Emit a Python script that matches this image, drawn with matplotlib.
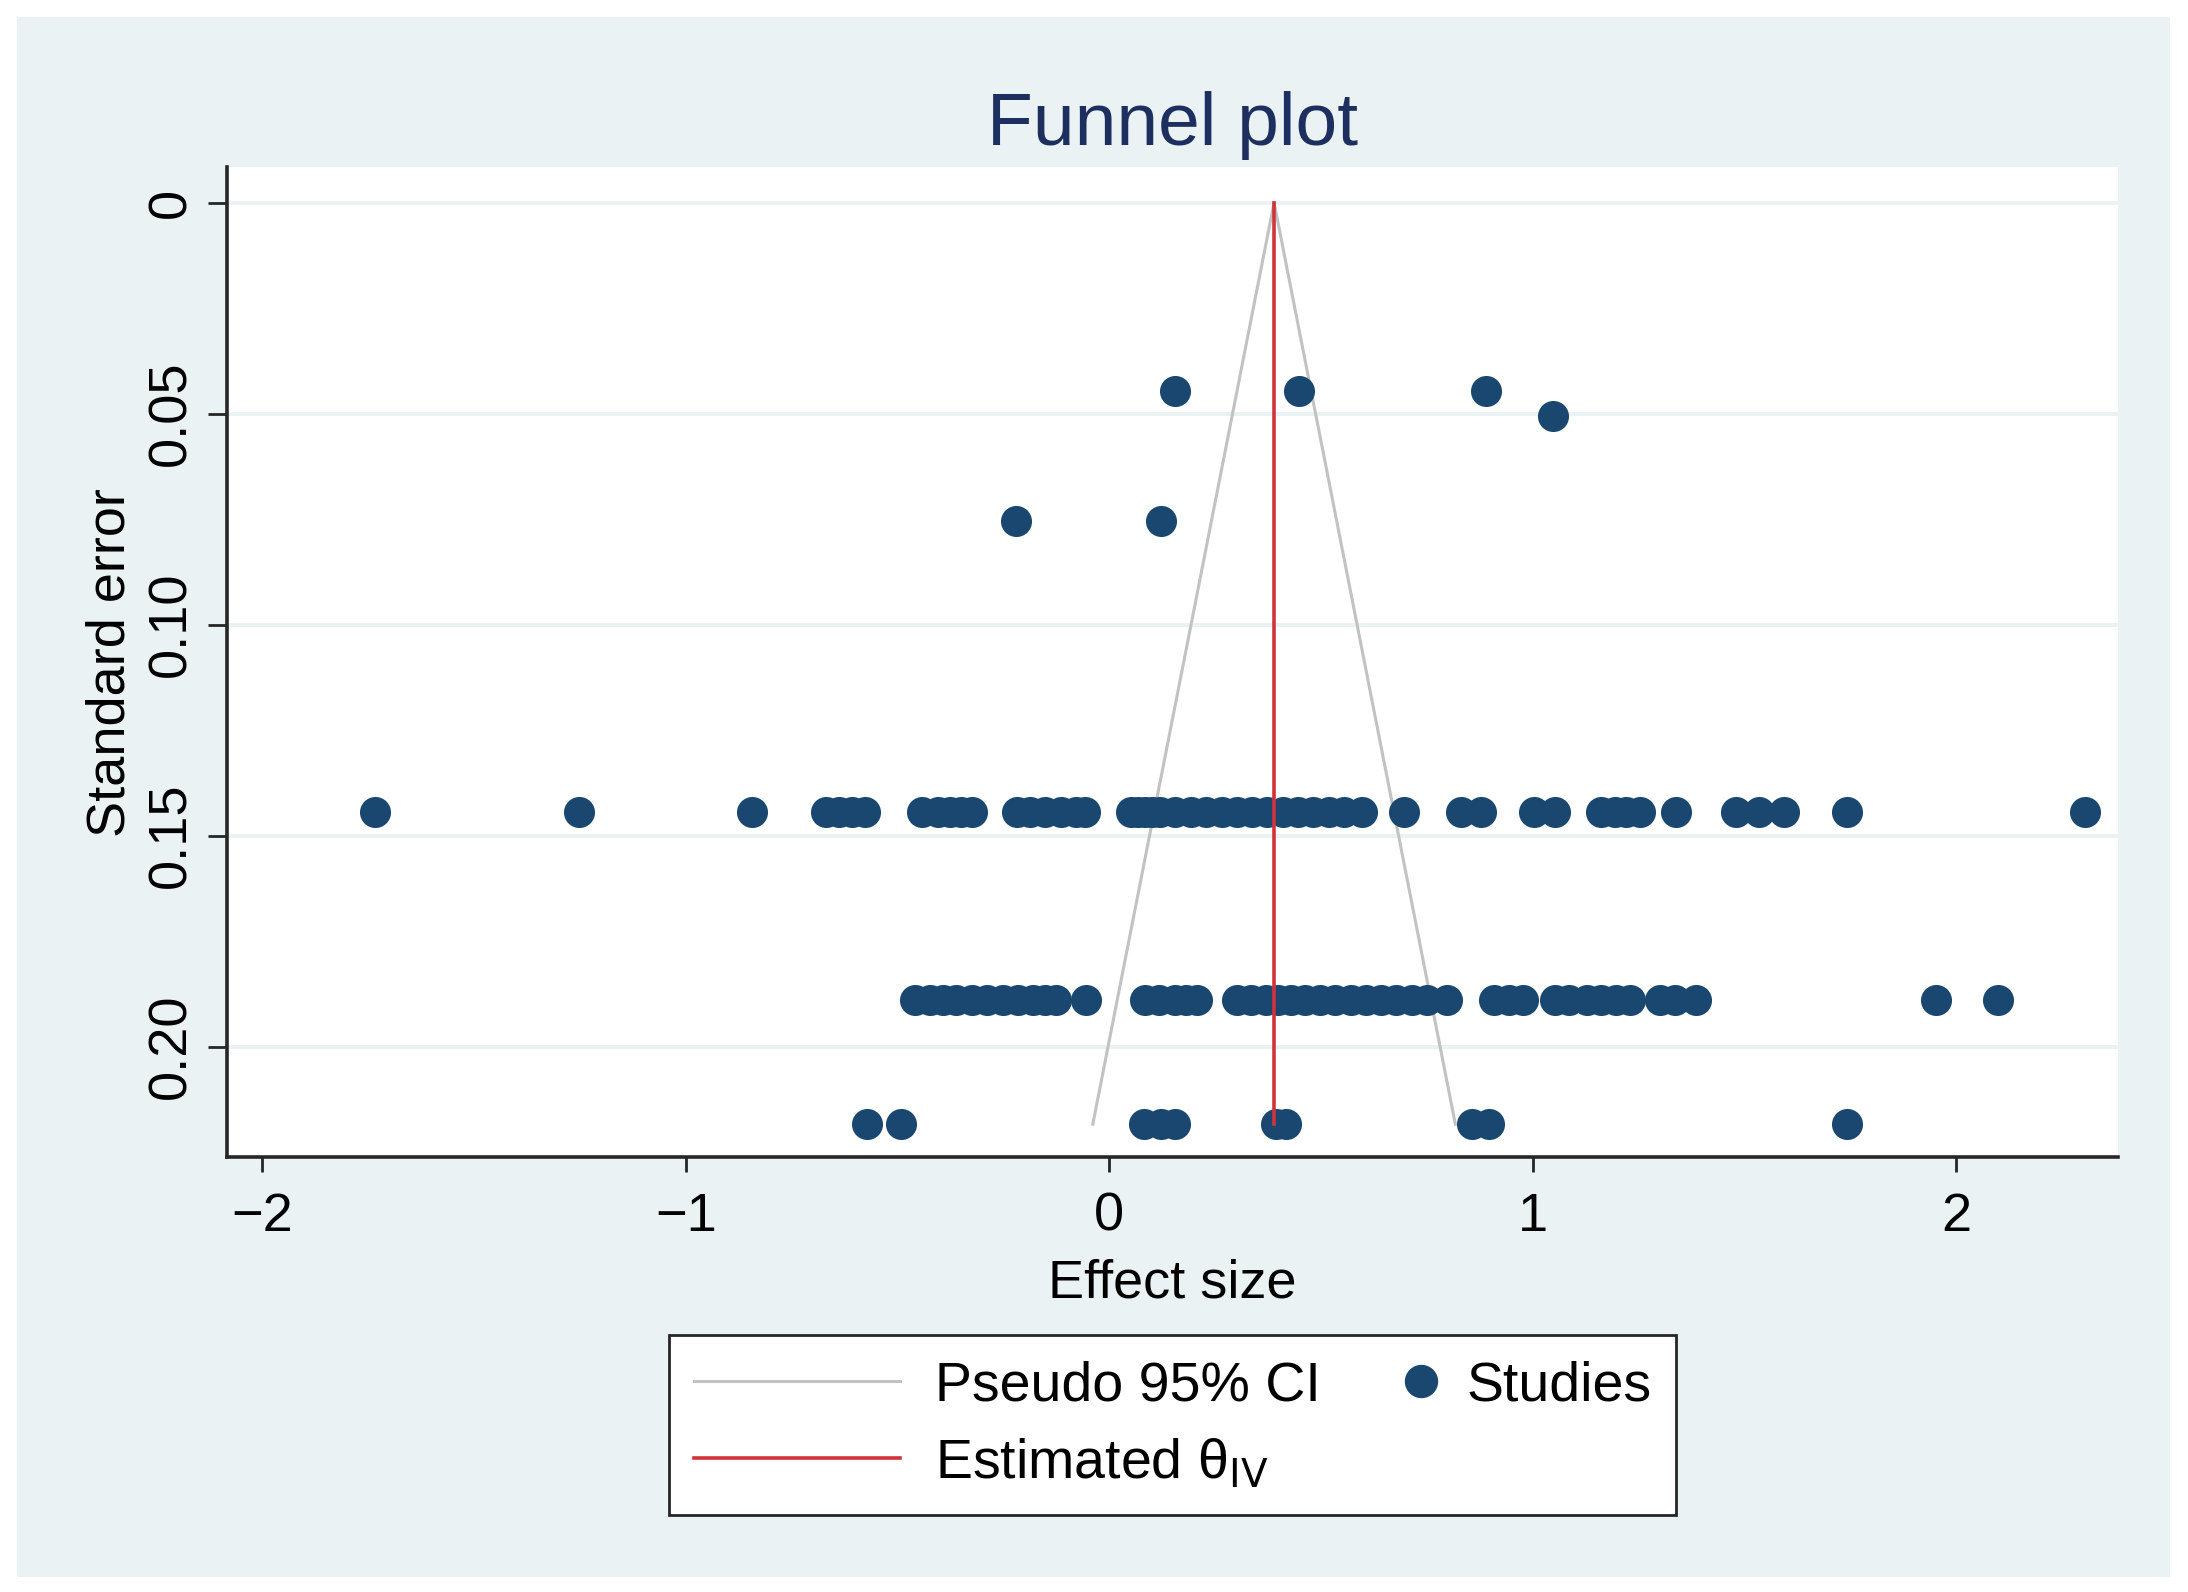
import matplotlib
matplotlib.use("Agg")
import numpy as np
import matplotlib.pyplot as plt
from matplotlib.lines import Line2D
from matplotlib.patches import Rectangle
from matplotlib.legend_handler import HandlerLine2D

plt.rcParams["font.family"] = ["Liberation Sans", "DejaVu Sans"]

# ---- Data --------------------------------------------------------------

theta_iv = 0.389

se_0045 = [0.155, 0.448, 0.890]
se_0051 = [1.048]
se_0075 = [-0.221, 0.122]
se_0144 = [-1.735, -1.252, -0.845, -0.669, -0.639, -0.608, -0.578,
           -0.443, -0.404, -0.377, -0.350, -0.324,
           -0.219, -0.187, -0.151, -0.115, -0.079, -0.058,
           0.052, 0.068, 0.084, 0.100, 0.120, 0.156, 0.192, 0.229, 0.265,
           0.301, 0.337, 0.373, 0.409, 0.445, 0.481, 0.518, 0.554, 0.597,
           0.697, 0.831, 0.878, 1.002, 1.053,
           1.160, 1.193, 1.221, 1.254, 1.338,
           1.480, 1.535, 1.594, 1.742, 2.304]
se_0189 = [-0.459, -0.424, -0.393, -0.361, -0.325, -0.289, -0.252, -0.216,
           -0.180, -0.153, -0.126, -0.054,
           0.084, 0.118, 0.154, 0.181, 0.207,
           0.301, 0.335, 0.371, 0.398, 0.430, 0.461, 0.498, 0.534, 0.570,
           0.606, 0.642, 0.678, 0.714, 0.751, 0.798,
           0.909, 0.943, 0.976, 1.052, 1.086, 1.128, 1.162, 1.196, 1.229,
           1.301, 1.335, 1.385, 1.953, 2.098]
se_0218 = [-0.572, -0.493, 0.082, 0.122, 0.154, 0.393, 0.417, 0.857, 0.897,
           1.743]

rows = [(0.0446, se_0045), (0.0506, se_0051), (0.0754, se_0075),
        (0.1444, se_0144), (0.1890, se_0189), (0.2184, se_0218)]

effect = [x for _, xs in rows for x in xs]
std_err = [s for s, xs in rows for _ in xs]

y_ticks = [0, 0.05, 0.10, 0.15, 0.20]
y_tick_labels = ["0", "0.05", "0.10", "0.15", "0.20"]
x_ticks = [-2, -1, 0, 1, 2]

# ---- Styling -----------------------------------------------------------

BG = "#eaf2f3"
NAVY = "#1a476f"
TITLE = "#1c2f5e"
CI_GRAY = "#c2c2c2"
RED = "#d0343a"


class DotAtEnd(HandlerLine2D):
    # put the marker near the right end of the key, like Stata does
    def get_xdata(self, legend, xdescent, ydescent, width, height, fontsize):
        m = -xdescent + width - 0.18 * fontsize
        return [m - 1.0, m + 1.0], [m]


fig = plt.figure(figsize=(10.94, 7.96), dpi=200)
fig.patch.set_facecolor("white")
fig.patches.append(Rectangle((17 / 2188, 15 / 1592), 2153 / 2188, 1560 / 1592,
                             transform=fig.transFigure, facecolor=BG,
                             edgecolor="none", zorder=-10))

ax = fig.add_axes([0.1037, 0.2732, 0.8643, 0.6218])
ax.set_facecolor("white")

# funnel (pseudo 95% CI)
se_max = max(std_err)
se_line = np.array([0.0, se_max])
ax.plot(theta_iv - 1.96 * se_line, se_line, color=CI_GRAY, lw=1.1, zorder=2)
ax.plot(theta_iv + 1.96 * se_line, se_line, color=CI_GRAY, lw=1.1, zorder=2)

ax.scatter(effect, std_err, s=125, color=NAVY, linewidths=0, zorder=3)

ax.plot([theta_iv, theta_iv], [0, se_max], color=RED, lw=1.3, zorder=4)

ax.set_xlim(-2.084, 2.382)
ax.set_ylim(0.2262, -0.0084)

ax.set_xticks(x_ticks)
ax.set_xticklabels(["\u22122", "\u22121", "0", "1", "2"])
ax.set_yticks(y_ticks)
ax.set_yticklabels(y_tick_labels, rotation=90, va="center")

ax.yaxis.grid(True, color=BG, lw=1.4)
ax.set_axisbelow(True)

for side in ("top", "right"):
    ax.spines[side].set_visible(False)
for side in ("left", "bottom"):
    ax.spines[side].set_color("#262626")
    ax.spines[side].set_linewidth(1.3)

ax.tick_params(axis="x", length=5.5, width=1.0, color="#262626",
               labelsize=19.5, pad=7)
ax.tick_params(axis="y", length=7, width=1.0, color="#262626",
               labelsize=19.5, pad=4)

ax.set_xlabel("Effect size", fontsize=19.5, labelpad=6)
ax.set_ylabel("Standard error", fontsize=19.5, labelpad=4)
ax.set_title("Funnel plot", fontsize=27, color=TITLE, pad=8)

# ---- Legend ------------------------------------------------------------

h_ci = Line2D([], [], color=CI_GRAY, lw=1.1)
h_est = Line2D([], [], color=RED, lw=1.3)
h_dot = Line2D([], [], color=NAVY, marker="o", linestyle="none",
               markersize=11)

leg = fig.legend([h_ci, h_est, h_dot],
                 ["Pseudo 95% CI", "Estimated \u03b8${}_{\\mathrm{IV}}$",
                  "Studies"],
                 loc="upper center", bbox_to_anchor=(0.536, 0.1614),
                 borderaxespad=0,
                 ncol=2, fontsize=20, handlelength=3.7, handletextpad=0.64,
                 columnspacing=-1.73, labelspacing=0.46, borderpad=0.45,
                 fancybox=False, framealpha=1, edgecolor="#262626",
                 handler_map={h_dot: DotAtEnd(numpoints=1)})
leg.get_frame().set_linewidth(1.0)

fig.savefig("out.png", dpi=200, facecolor=fig.get_facecolor())
